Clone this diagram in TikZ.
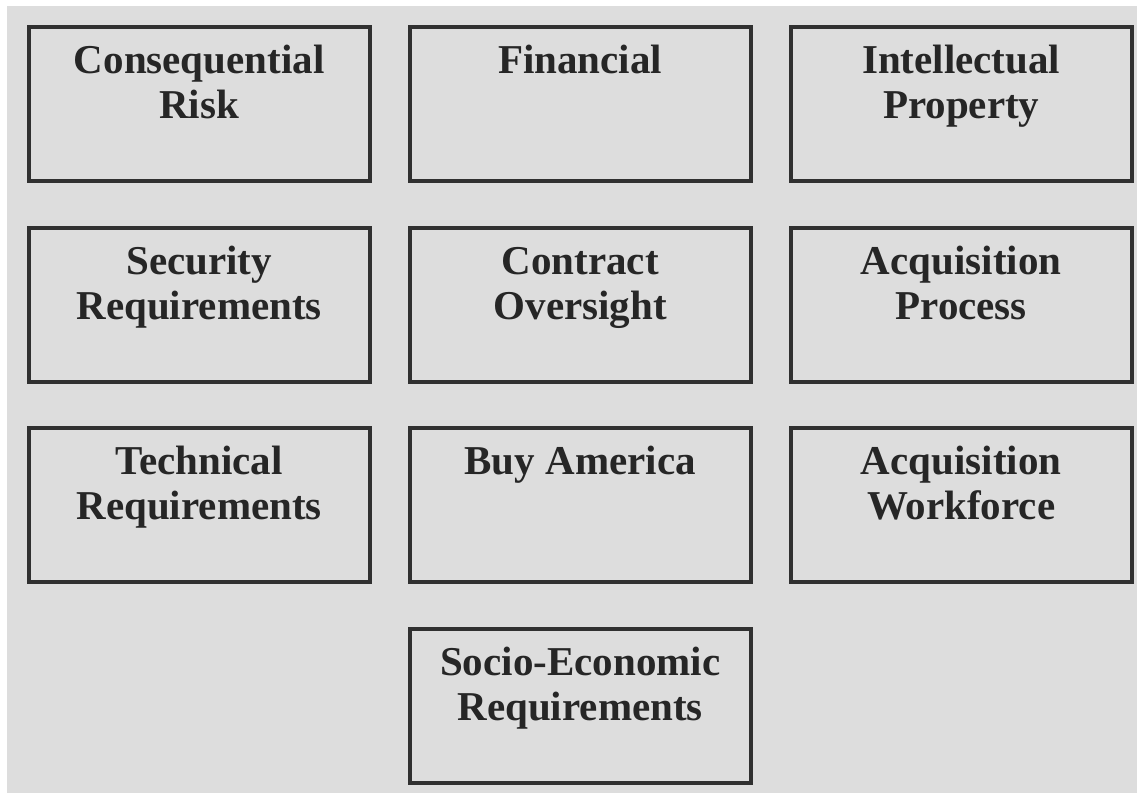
\documentclass[tikz,border=0pt]{standalone}
\usepackage{fontspec}
\setmainfont{Liberation Serif}
\usetikzlibrary{positioning}
\definecolor{bg gray}{HTML}{DDDDDD}
\definecolor{line gray}{HTML}{303030}
\newcommand{\boxtext}[1]{\parbox[t][154pt][t]{341pt}{\centering\fontsize{41}{45}\selectfont\bfseries\rule{0pt}{46.5pt}#1}}
\tikzset{risk box/.style={rectangle,draw=line gray,line width=4pt,inner sep=0pt,outer sep=0pt,text=black!85},
         back ground/.style={fill=bg gray,draw=none},
}

\begin{document}
\begin{tikzpicture}[
node distance = 46.6pt and 40pt]
\useasboundingbox (0,0) rectangle (1137pt,-793pt);
\fill[back ground] (7pt,-6pt) rectangle (1137pt,-793pt);
% \draw[help lines] (0,0) grid (30,-21);
\node [risk box, anchor=north west] (1) at (28.7pt,-27pt) {\boxtext{Consequential\\Risk}};
\node [risk box, right=of 1] (2) {\boxtext{Financial}};
\node [risk box, right=of 2] (3) {\boxtext{Intellectual\\Property}};
\node [risk box, below=of 1] (4) {\boxtext{Security\\Requirements}};
\node [risk box, right=of 4] (5) {\boxtext{Contract\\Oversight}};
\node [risk box, right=of 5] (6) {\boxtext{Acquisition\\Process}};
\node [risk box, below=of 4] (7) {\boxtext{Technical\\Requirements}};
\node [risk box, right=of 7] (8) {\boxtext{Buy America}};
\node [risk box, right=of 8] (9) {\boxtext{Acquisition\\Workforce}};
\node [risk box, below=of 8] (10) {\boxtext{Socio-Economic\\Requirements}};
\end{tikzpicture}
\end{document}
